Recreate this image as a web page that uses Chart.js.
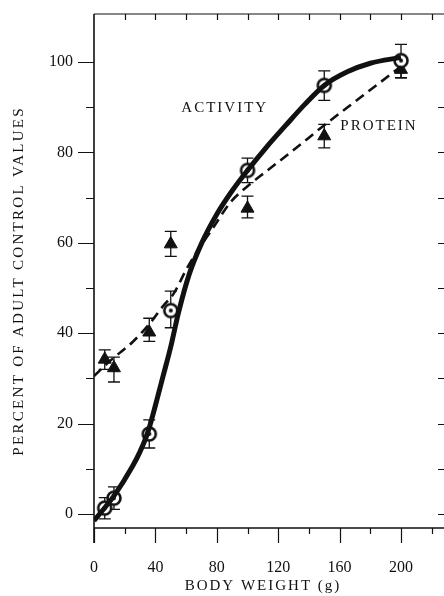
<!DOCTYPE html>
<html><head><meta charset="utf-8">
<script src="https://cdn.jsdelivr.net/npm/chart.js@4/dist/chart.umd.min.js"></script>
<style>html,body{margin:0;padding:0;background:#fff;overflow:hidden}#wrap{width:444px;height:596px;position:relative}</style>
</head><body><div id="wrap"><canvas id="c" width="444" height="596"></canvas></div>
<script>
// ---- data ----
const weights = [7, 13, 36, 50, 100, 150, 200];
const activity = [1.3, 3.5, 17.7, 45, 76, 94.8, 100.3];
const activityLow = [-1.1, 1, 14.6, 41.2, 73.3, 91.5, 96.5];
const activityHigh = [3.6, 6, 20.8, 49.3, 78.7, 98, 103.9];
const protein = [34.2, 32.3, 40.2, 59.7, 67.6, 83.6, 98.3];
const proteinLow = [32, 29.2, 38.2, 57, 65.5, 81, 96.5];
const proteinHigh = [36.3, 34.7, 43.3, 62.5, 70.3, 86.2, 100.2];
const activityCurveX = [0, 13, 25, 30, 35, 40, 45, 50, 55, 62, 70, 80, 90, 100, 112, 125, 137, 150, 165, 180, 200];
const activityCurveY = [-1.5, 4, 10.5, 13.8, 18, 24, 30.5, 37, 44.5, 53, 59.8, 66.3, 71.5, 76, 81, 86, 90.5, 94.8, 97.8, 99.7, 101];
const proteinCurveX = [0, 7, 13, 25, 36, 45, 52, 60, 67, 77, 89, 100, 113, 130, 150, 175, 200];
const proteinCurveY = [30.5, 32.8, 34.6, 38, 42, 46, 48.8, 54, 58, 63, 69, 72.5, 76, 80.5, 86, 92.5, 99];
const xTickLabels = [0, 40, 80, 120, 160, 200];
const yTickLabels = [0, 20, 40, 60, 80, 100];
const xTitle = 'BODY WEIGHT (g)';
const yTitle = 'PERCENT OF ADULT CONTROL VALUES';
const curveLabels = [
  {text: 'ACTIVITY', x: 84.5, y: 89.7},
  {text: 'PROTEIN', x: 185, y: 85.8}
];

const INK = '#111';
const FONT = "'Liberation Serif', 'Times New Roman', serif";

function pts(xs, ys) { return xs.map((x, i) => ({x: x, y: ys[i]})); }

// circle-with-dot marker
const circMarker = document.createElement('canvas');
circMarker.width = 18; circMarker.height = 18;
(function () {
  const g = circMarker.getContext('2d');
  g.beginPath(); g.arc(9, 9, 6.5, 0, Math.PI * 2);
  g.fillStyle = '#fff'; g.fill();
  g.lineWidth = 2.6; g.strokeStyle = INK; g.stroke();
  g.beginPath(); g.arc(9, 9, 2, 0, Math.PI * 2); g.fillStyle = INK; g.fill();
})();

function spacedText(ctx, text, cx, cy, spacing) {
  ctx.letterSpacing = spacing + 'px';
  const w = ctx.measureText(text).width - spacing;
  ctx.textAlign = 'left';
  ctx.textBaseline = 'middle';
  ctx.fillText(text, cx - w / 2, cy);
  ctx.letterSpacing = '0px';
}

const framePlugin = {
  id: 'frame',
  beforeDatasetsDraw(chart) {
    const ctx = chart.ctx;
    const xs = chart.scales.x, ys = chart.scales.y;
    const ca = chart.chartArea;
    ctx.save();
    ctx.strokeStyle = INK;
    ctx.lineCap = 'butt';
    ctx.lineWidth = 1.6;
    ctx.beginPath();
    ctx.moveTo(ca.left, ca.top); ctx.lineTo(ca.left, ca.bottom + 15);
    ctx.moveTo(ca.left, ca.bottom); ctx.lineTo(ca.right, ca.bottom);
    ctx.stroke();
    ctx.lineWidth = 1.2;
    ctx.beginPath();
    ctx.moveTo(ca.left, ca.top); ctx.lineTo(ca.right, ca.top);
    ctx.stroke();
    ctx.lineWidth = 1.2;
    ctx.beginPath();
    for (let v = 0; v <= 100; v += 10) {
      const py = Math.round(ys.getPixelForValue(v)) + 0.5;
      const len = (v % 20 === 0) ? 16 : 8;
      ctx.moveTo(ca.left - len, py); ctx.lineTo(ca.left, py);
      ctx.moveTo(ca.right - 6, py); ctx.lineTo(ca.right, py);
    }
    for (let v = 0; v <= 220; v += 20) {
      const px = Math.round(xs.getPixelForValue(v)) + 0.5;
      if (px > ca.right) continue;
      const len = (v % 40 === 0) ? 15 : 6;
      ctx.moveTo(px, ca.bottom); ctx.lineTo(px, ca.bottom + len);
      if (v > 0) { ctx.moveTo(px, ca.top); ctx.lineTo(px, ca.top + 6); }
    }
    ctx.stroke();
    ctx.lineWidth = 1.3;
    const bars = (lo, hi) => {
      ctx.beginPath();
      weights.forEach((w, i) => {
        const px = xs.getPixelForValue(w);
        const y1 = ys.getPixelForValue(lo[i]);
        const y2 = ys.getPixelForValue(hi[i]);
        ctx.moveTo(px, y1); ctx.lineTo(px, y2);
        ctx.moveTo(px - 6, y1); ctx.lineTo(px + 6, y1);
        ctx.moveTo(px - 6, y2); ctx.lineTo(px + 6, y2);
      });
      ctx.stroke();
    };
    bars(activityLow, activityHigh);
    bars(proteinLow, proteinHigh);
    ctx.restore();
  },
  afterDraw(chart) {
    const ctx = chart.ctx;
    const xs = chart.scales.x, ys = chart.scales.y;
    ctx.save();
    ctx.fillStyle = INK;
    ctx.font = '15px ' + FONT;
    curveLabels.forEach(l => spacedText(ctx, l.text, xs.getPixelForValue(l.x), ys.getPixelForValue(l.y), 2));
    spacedText(ctx, xTitle, 262, 586, 2);
    ctx.translate(19, 282);
    ctx.rotate(-Math.PI / 2);
    spacedText(ctx, yTitle, 0, 0, 2.3);
    ctx.restore();
  }
};

new Chart(document.getElementById('c'), {
  type: 'scatter',
  data: {
    datasets: [
      {data: pts(activityCurveX, activityCurveY), showLine: true, pointRadius: 0, borderColor: INK, borderWidth: 5, cubicInterpolationMode: 'monotone', fill: false},
      {data: pts(proteinCurveX, proteinCurveY), showLine: true, pointRadius: 0, borderColor: INK, borderWidth: 2.6, borderDash: [10, 6], cubicInterpolationMode: 'monotone', fill: false},
      {data: pts(weights, activity), pointStyle: circMarker, pointRadius: 7, showLine: false},
      {data: pts(weights, protein), pointStyle: 'triangle', pointRadius: 7.5, backgroundColor: INK, borderColor: INK, borderWidth: 1, showLine: false}
    ]
  },
  options: {
    responsive: false,
    animation: false,
    devicePixelRatio: 1,
    layout: {autoPadding: false, padding: {top: 14, left: 0, right: 0, bottom: 0}},
    plugins: {legend: {display: false}, tooltip: {enabled: false}},
    scales: {
      x: {
        type: 'linear', min: 0, max: 228,
        grid: {display: false, drawTicks: false}, border: {display: false},
        afterBuildTicks: s => { s.ticks = xTickLabels.map(v => ({value: v})); },
        afterFit: s => { s.height = 68; s.paddingLeft = 0; s.paddingRight = 0; },
        ticks: {color: INK, font: {family: FONT, size: 16}, padding: 30, maxRotation: 0, callback: v => String(v)}
      },
      y: {
        type: 'linear', min: -3.1, max: 110.6,
        grid: {display: false, drawTicks: false}, border: {display: false},
        afterBuildTicks: s => { s.ticks = yTickLabels.map(v => ({value: v})); },
        afterFit: s => { s.width = 94; s.paddingTop = 0; s.paddingBottom = 0; },
        ticks: {color: INK, font: {family: FONT, size: 16}, padding: 21, callback: v => String(v)}
      }
    }
  },
  plugins: [framePlugin]
});
</script>
</body></html>
